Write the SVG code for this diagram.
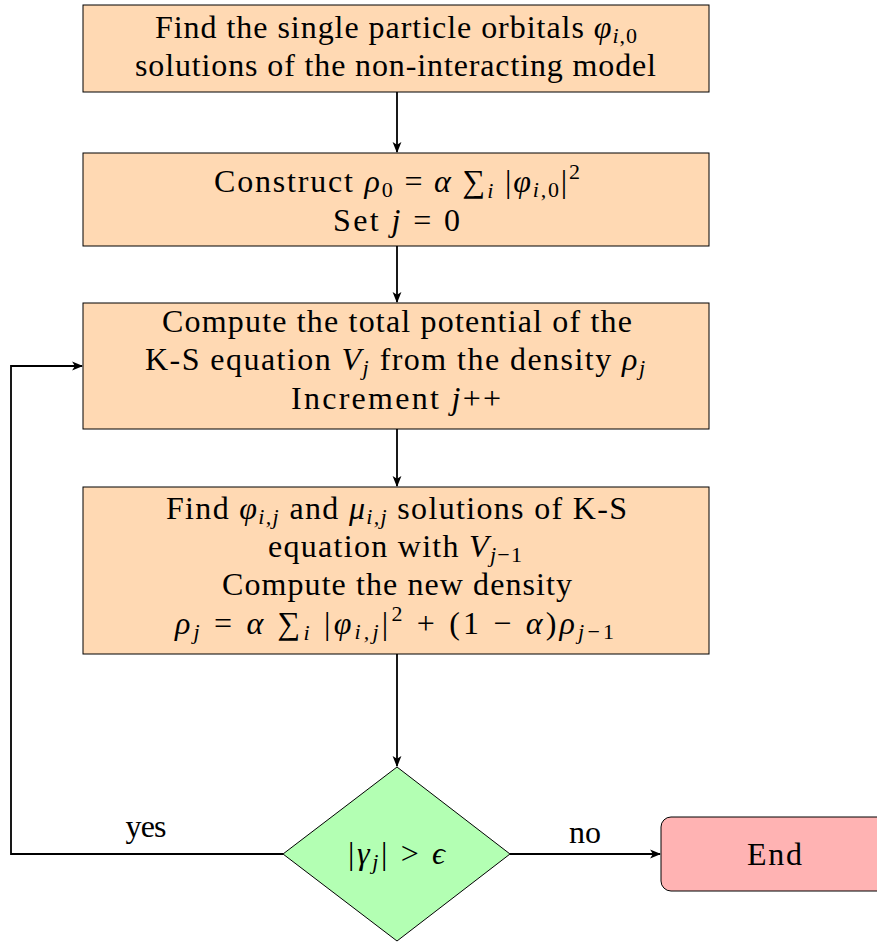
<svg xmlns="http://www.w3.org/2000/svg" width="877" height="942" viewBox="0 0 877 942">
<defs>
<marker id="arr" viewBox="0 0 10 10" refX="9" refY="5" markerWidth="11" markerHeight="11" markerUnits="userSpaceOnUse" orient="auto">
<path d="M0,1 L10,5 L0,9 L2.5,5 Z" fill="#000"/>
</marker>
</defs>
<style>
.box{fill:#FFD9B3;stroke:#000;stroke-width:1}
.dec{fill:#B3FFB3;stroke:#000;stroke-width:1}
.end{fill:#FFB3B3;stroke:#000;stroke-width:1}
text{font-family:"Liberation Serif","Times New Roman",serif;font-size:32px;fill:#000;text-anchor:middle}
.m{font-style:italic}
.s{font-size:22px}
.c{fill:none;stroke:#000;stroke-width:1.8}
</style>
<rect width="877" height="942" fill="#fff"/>
<g id="connectors">
<line class="c" x1="397" y1="92" x2="397" y2="152" marker-end="url(#arr)"/>
<line class="c" x1="397" y1="246" x2="397" y2="302" marker-end="url(#arr)"/>
<line class="c" x1="397" y1="429" x2="397" y2="486" marker-end="url(#arr)"/>
<line class="c" x1="397" y1="654" x2="397" y2="766" marker-end="url(#arr)"/>
<polyline class="c" points="283,854 11,854 11,366 82,366" marker-end="url(#arr)"/>
<line class="c" x1="510" y1="854" x2="660" y2="854" marker-end="url(#arr)"/>
<text x="146" y="837" textLength="41" lengthAdjust="spacing">yes</text>
<text x="585" y="843" textLength="32" lengthAdjust="spacing">no</text>
</g>
<g id="n1">
<rect class="box" x="83" y="5" width="626" height="87"/>
<text x="396" y="38" textLength="482" lengthAdjust="spacing">Find the single particle orbitals <tspan class="m">φ</tspan><tspan class="s" dy="5"><tspan class="m">i</tspan>,0</tspan></text>
<text x="395.5" y="76" textLength="521" lengthAdjust="spacing">solutions of the non-interacting model</text>
</g>
<g id="n2">
<rect class="box" x="83" y="153" width="626" height="93"/>
<text x="397" y="192" textLength="366" lengthAdjust="spacing">Construct <tspan class="m">ρ</tspan><tspan class="s" dy="5">0</tspan><tspan dy="-5"> = </tspan><tspan class="m">α</tspan> ∑<tspan class="s m" dy="6">i</tspan><tspan dy="-6"> |</tspan><tspan class="m">φ</tspan><tspan class="s" dy="5"><tspan class="m">i</tspan>,0</tspan><tspan dy="-5">|</tspan><tspan class="s" dy="-13">2</tspan></text>
<text x="396.5" y="231" textLength="127" lengthAdjust="spacing">Set <tspan class="m">j</tspan> = 0</text>
</g>
<g id="n3">
<rect class="box" x="83" y="303" width="626" height="126"/>
<text x="397" y="332" textLength="470" lengthAdjust="spacing">Compute the total potential of the</text>
<text x="395" y="370" textLength="500" lengthAdjust="spacing">K-S equation <tspan class="m">V</tspan><tspan class="s m" dy="5">j</tspan><tspan dy="-5"> from the density </tspan><tspan class="m">ρ</tspan><tspan class="s m" dy="5">j</tspan></text>
<text x="396" y="409" textLength="210" lengthAdjust="spacing">Increment <tspan class="m">j</tspan>++</text>
</g>
<g id="n4">
<rect class="box" x="83" y="487" width="626" height="167"/>
<text x="396.5" y="519" textLength="461" lengthAdjust="spacing">Find <tspan class="m">φ</tspan><tspan class="s m" dy="5">i,j</tspan><tspan dy="-5"> and </tspan><tspan class="m">μ</tspan><tspan class="s m" dy="5">i,j</tspan><tspan dy="-5"> solutions of K-S</tspan></text>
<text x="395" y="557" textLength="254" lengthAdjust="spacing">equation with <tspan class="m">V</tspan><tspan class="s" dy="5"><tspan class="m">j</tspan>−1</tspan></text>
<text x="397" y="595" textLength="350" lengthAdjust="spacing">Compute the new density</text>
<text x="394.5" y="634" textLength="439" lengthAdjust="spacing"><tspan class="m">ρ</tspan><tspan class="s m" dy="5">j</tspan><tspan dy="-5"> = </tspan><tspan class="m">α</tspan> ∑<tspan class="s m" dy="6">i</tspan><tspan dy="-6"> |</tspan><tspan class="m">φ</tspan><tspan class="s m" dy="5">i,j</tspan><tspan dy="-5">|</tspan><tspan class="s" dy="-13">2</tspan><tspan dy="13"> + (1 − </tspan><tspan class="m">α</tspan>)<tspan class="m">ρ</tspan><tspan class="s" dy="5"><tspan class="m">j</tspan>−1</tspan></text>
</g>
<g id="n5">
<polygon class="dec" points="397,767 510,854 397,941 283,854"/>
<text x="396.5" y="864" textLength="97" lengthAdjust="spacing">|<tspan class="m">γ</tspan><tspan class="s m" dy="5">j</tspan><tspan dy="-5">| &gt; </tspan><tspan class="m">ϵ</tspan></text>
</g>
<g id="n6">
<rect class="end" x="661" y="817" width="240" height="74" rx="10" ry="10"/>
<text x="774.5" y="865" textLength="55" lengthAdjust="spacing">End</text>
</g>
</svg>
